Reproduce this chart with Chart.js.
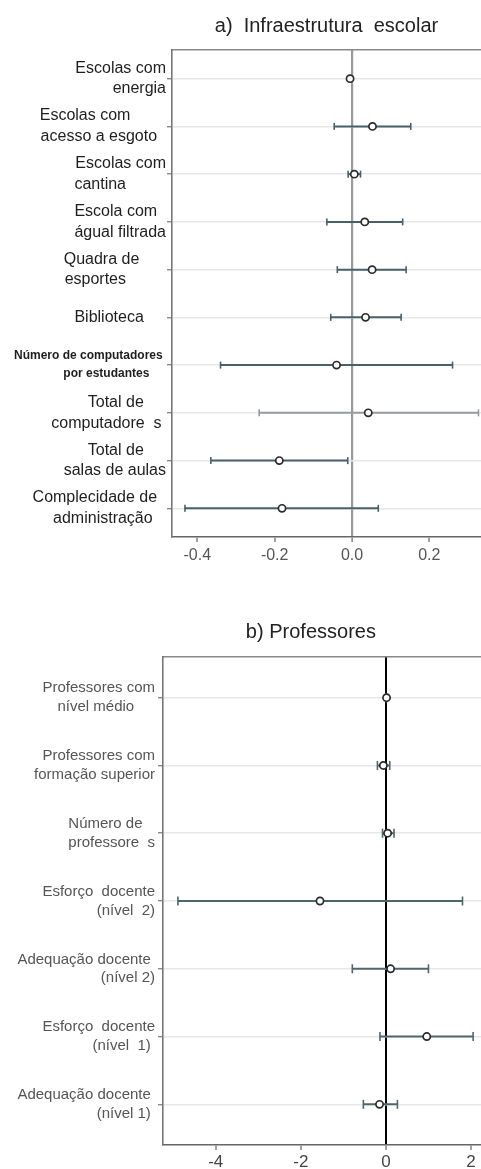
<!DOCTYPE html>
<html><head><meta charset="utf-8">
<script src="https://cdn.jsdelivr.net/npm/chart.js@4"></script>
<style>
html,body{margin:0;padding:0;background:#fff;overflow:hidden;width:481px;height:1169px}
#wa{position:absolute;left:0;top:0;width:481px;height:577px}
#wb{position:absolute;left:0;top:600px;width:481px;height:587px}
</style></head><body>
<div id="wa"><canvas id="ca"></canvas></div>
<div id="wb"><canvas id="cb"></canvas></div>
<script>
// ---- Panel a data ----
const titleA = "a)  Infraestrutura  escolar";
const labelsA = [
  ["Escolas com", "energia"],
  ["Escolas com        ", "acesso a esgoto  "],
  ["Escolas com", "cantina         "],
  ["Escola com  ", "águal filtrada"],
  ["Quadra de      ", "esportes         "],
  ["Biblioteca     "],
  ["Número de computadores ", "por estudantes     "],
  ["Total de     ", "computadore  s "],
  ["Total de     ", "salas de aulas"],
  ["Complecidade de  ", "administração   "]
];
const estA = [-0.005, 0.053, 0.006, 0.033, 0.052, 0.035, -0.040, 0.042, -0.188, -0.181];
const loA  = [-0.008, -0.046, -0.010, -0.065, -0.038, -0.055, -0.340, -0.240, -0.365, -0.432];
const hiA  = [-0.002, 0.152, 0.022, 0.131, 0.140, 0.127, 0.260, 0.327, -0.011, 0.068];
const xTicksA = [-0.4, -0.2, 0.0, 0.2];

// ---- Panel b data ----
const titleB = "b) Professores    ";
const labelsB = [
  ["Professores com", "nível médio     "],
  ["Professores com", "formação superior"],
  ["Número de   ", "professore  s"],
  ["Esforço  docente", "(nível  2)"],
  ["Adequação docente ", "(nível 2)"],
  ["Esforço  docente", "(nível  1) "],
  ["Adequação docente ", "(nível 1) "]
];
const estB = [0.015, -0.06, 0.04, -1.55, 0.11, 0.96, -0.15];
const loB  = [0.005, -0.20, -0.08, -4.89, -0.79, -0.14, -0.53];
const hiB  = [0.025, 0.09, 0.19, 1.80, 1.00, 2.05, 0.27];
const xTicksB = [-4, -2, 0, 2];

const FAM = "'Liberation Sans', Arial, sans-serif";

function buildChart(canvasId, cfg) {
  const n = cfg.labels.length;
  const pts = cfg.est.map((v, i) => ({x: v, y: i + 1}));
  const ci = [];
  const capColors = [];
  cfg.lo.forEach((lo, i) => {
    const col = cfg.ciColors[i];
    ci.push({x: lo, y: i + 1}); capColors.push(col);
    ci.push({x: cfg.hi[i], y: i + 1}); capColors.push(col);
    ci.push({x: cfg.hi[i], y: null}); capColors.push(col);
  });
  return new Chart(document.getElementById(canvasId), {
    type: 'line',
    data: {
      datasets: [
        {
          data: pts, order: 0, showLine: false,
          pointStyle: 'circle', pointRadius: 3.6, pointBackgroundColor: '#fff',
          pointBorderColor: '#2b2b2b', pointBorderWidth: 1.7
        },
        {
          data: ci, order: 1, spanGaps: false, borderWidth: cfg.ciWidth,
          borderColor: cfg.ciColors[0],
          segment: { borderColor: c => cfg.ciColors[Math.floor(c.p0DataIndex / 3)] },
          pointStyle: 'line', pointRotation: 90, pointRadius: cfg.capR,
          pointBorderColor: capColors, pointBorderWidth: 1.6, pointBackgroundColor: capColors
        }
      ]
    },
    options: {
      responsive: true, maintainAspectRatio: false, animation: false,
      layout: { padding: 0, autoPadding: false },
      plugins: {
        legend: { display: false }, tooltip: { enabled: false },
        title: {
          display: true, text: cfg.title, fullSize: false, color: '#222',
          font: { size: 20, family: FAM, weight: 'normal' },
          padding: cfg.titlePad
        }
      },
      scales: {
        x: {
          type: 'linear', position: 'bottom', min: cfg.xmin, max: cfg.xmax,
          afterBuildTicks: s => { s.ticks = cfg.xTicks.map(v => ({value: v})); },
          afterFit: s => { s.height = cfg.xAxisH; },
          ticks: {
            color: cfg.xTickColor, padding: cfg.xPad, autoSkip: false, maxRotation: 0,
            font: { size: cfg.xFontSize, family: FAM },
            callback: v => cfg.xFmt(v)
          },
          grid: {
            drawOnChartArea: true, tickLength: 5,
            color: c => (c.tick && c.tick.value === 0) ? cfg.zeroColor : 'rgba(0,0,0,0)',
            lineWidth: c => (c.tick && c.tick.value === 0) ? cfg.zeroWidth : 0,
            tickColor: '#666', tickWidth: 1.2
          },
          border: { display: true, color: '#666', width: 1.6 }
        },
        xTop: {
          type: 'linear', position: 'top', min: cfg.xmin, max: cfg.xmax, display: true,
          afterFit: s => { s.height = 0; },
          ticks: { display: false },
          grid: { display: false, drawTicks: false },
          border: { display: true, color: '#888', width: 1.5 }
        },
        y: {
          type: 'linear', reverse: true, min: 0.4, max: n + 0.6,
          afterBuildTicks: s => { s.ticks = cfg.labels.map((_, i) => ({value: i + 1})); },
          afterFit: s => { s.width = cfg.axisW; },
          ticks: {
            autoSkip: false, padding: cfg.yPad, color: cfg.yLabelColor,
            font: c => cfg.yFont(c.index),
            callback: v => cfg.labels[Math.round(v) - 1]
          },
          grid: {
            color: '#e6e8e8', lineWidth: 1.5, tickLength: 5,
            tickColor: '#777', tickWidth: 1.2
          },
          border: { display: true, color: '#777', width: 1.6 }
        }
      }
    }
  });
}

buildChart('ca', {
  title: titleA, labels: labelsA, est: estA, lo: loA, hi: hiA,
  ciColors: estA.map((_, i) => i === 7 ? '#959b9e' : '#47606a'),
  ciWidth: 2, capR: 3.5,
  xmin: -0.4655, xmax: 0.3336, xTicks: xTicksA, xFmt: v => v.toFixed(1),
  xTickColor: '#555', zeroColor: '#999', zeroWidth: 2.2, xAxisH: 40, xPad: 4, xFontSize: 16,
  titlePad: { top: 14, bottom: 12 }, axisW: 172, yPad: 1, yLabelColor: '#1e1e1e',
  yFont: i => i === 6 ? { size: 12, weight: 'bold', family: FAM, lineHeight: 1.5 }
                      : { size: 16, family: FAM, lineHeight: 1.3 }
});

buildChart('cb', {
  title: titleB, labels: labelsB, est: estB, lo: loB, hi: hiB,
  ciColors: estB.map(() => '#4f666f'),
  ciWidth: 2, capR: 4.5,
  xmin: -5.24, xmax: 2.235, xTicks: xTicksB, xFmt: v => String(v),
  xTickColor: '#444', zeroColor: '#000', zeroWidth: 2, xAxisH: 42, xPad: 2, xFontSize: 17,
  titlePad: { top: 20, bottom: 13 }, axisW: 163, yPad: 3, yLabelColor: '#555',
  yFont: i => ({ size: 15, family: FAM, lineHeight: 1.25 })
});
</script>
</body></html>
